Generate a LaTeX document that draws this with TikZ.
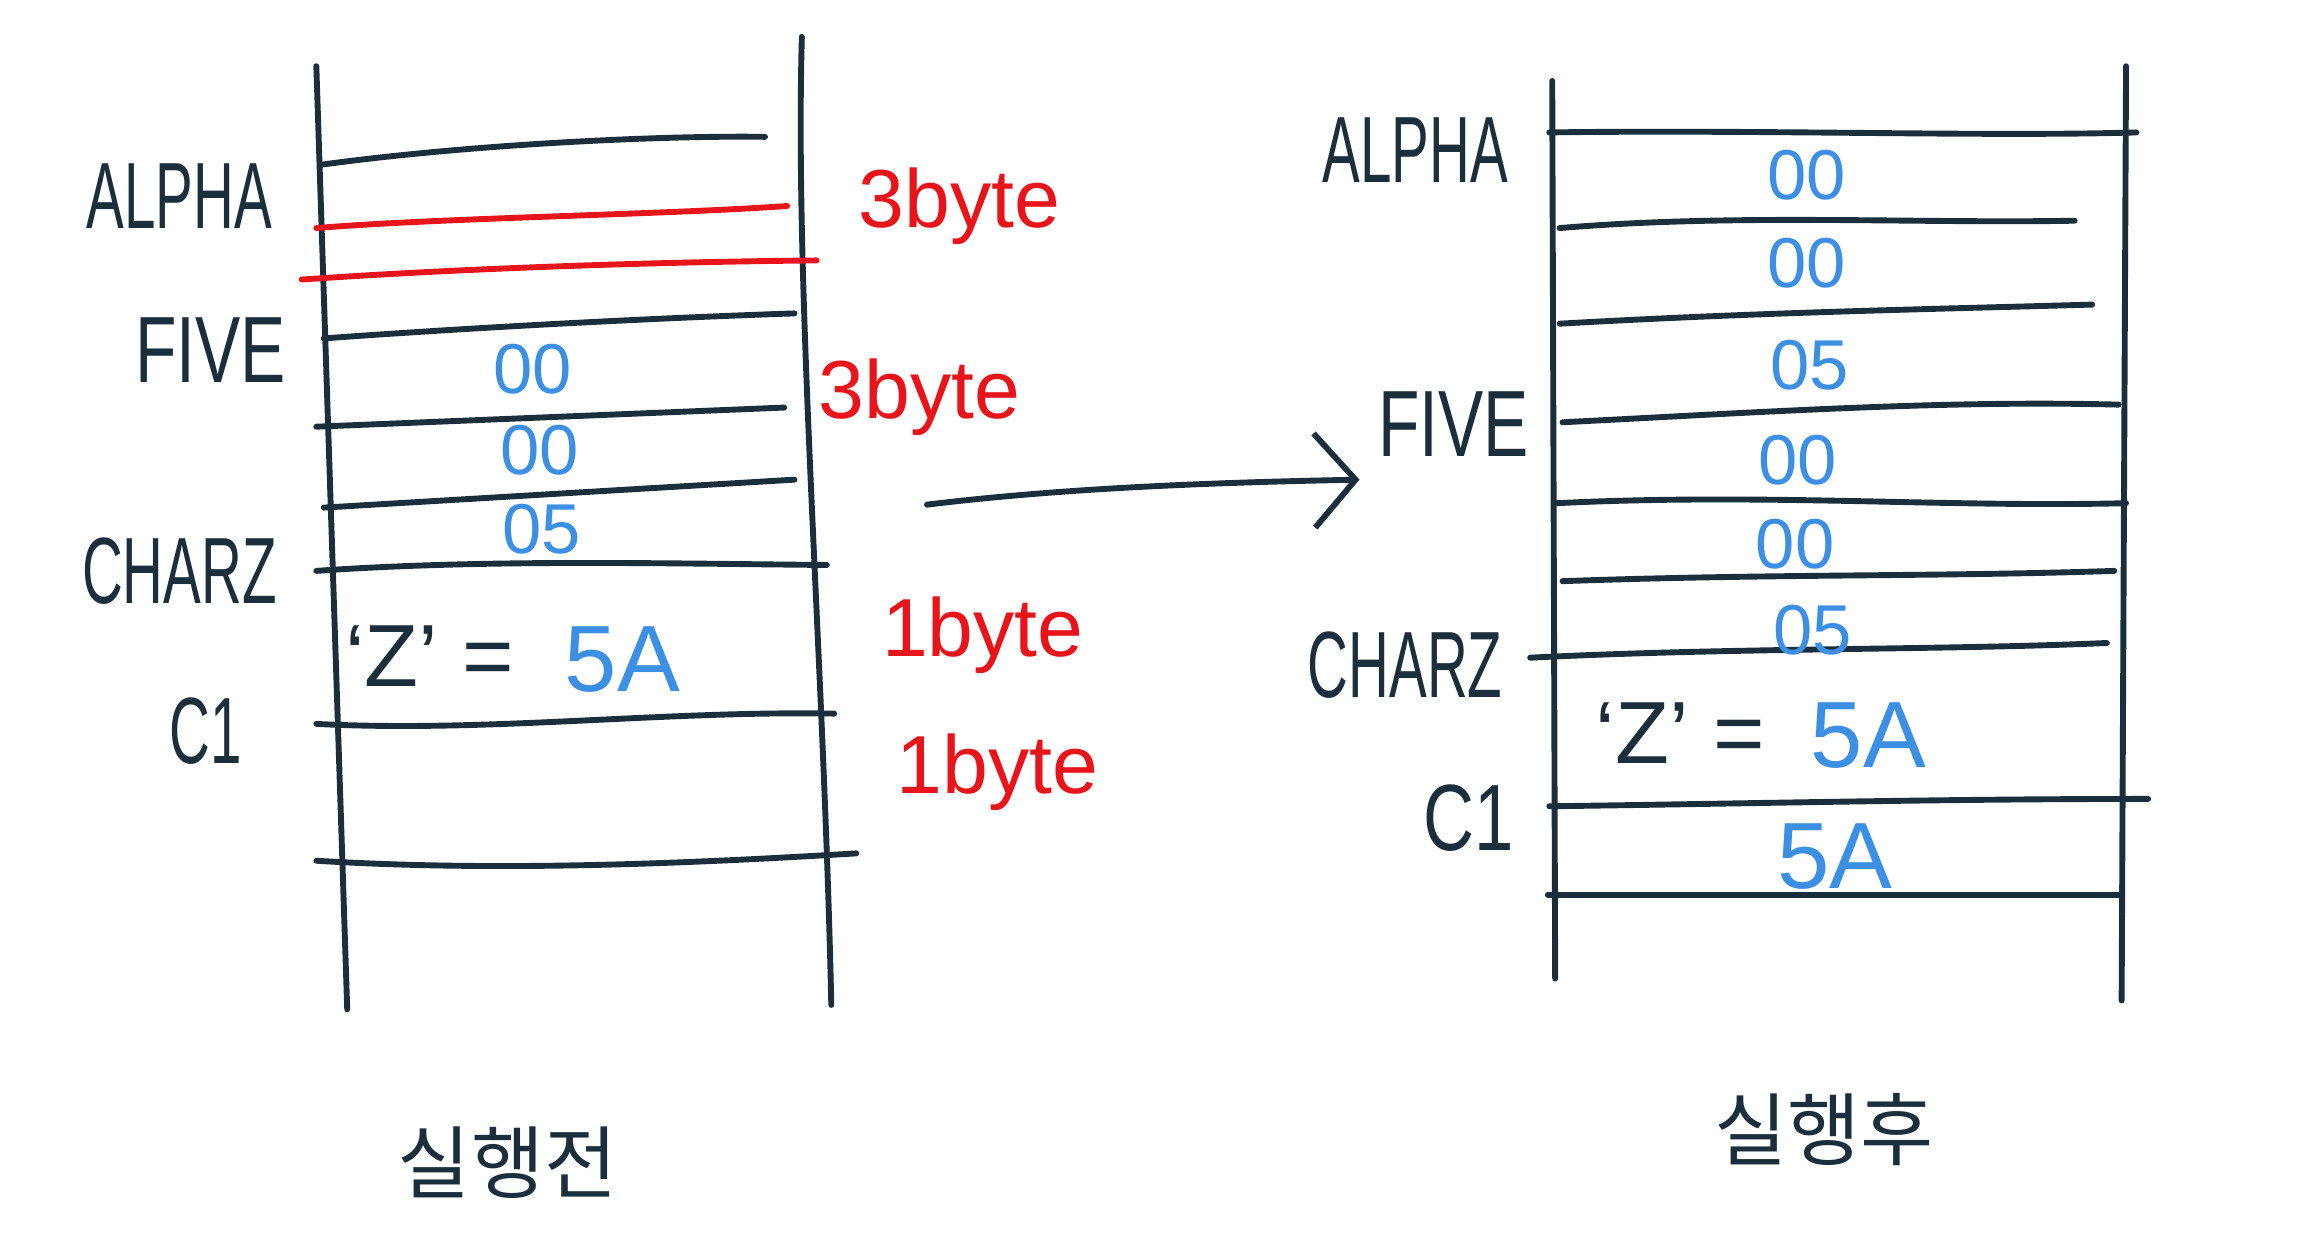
\documentclass[tikz,border=0pt]{standalone}
\usepackage{graphicx}
\usepackage{fontspec}
\setmainfont{Liberation Sans}
\newfontfamily\krfont{Noto Sans CJK KR}
\usetikzlibrary{arrows.meta}
\definecolor{ink}{HTML}{1B2E3C}
\definecolor{redc}{HTML}{E8141C}
\definecolor{bluec}{HTML}{3C8FE3}
\newcommand\sxx[1]{\scalebox{0.6}[1]{#1}}
\begin{document}
\begin{tikzpicture}[x=1pt,y=-1pt,line cap=round,line join=round,
  ln/.style={draw=ink,line width=4pt},
  rl/.style={draw=redc,line width=4pt},
  lbl/.style={text=ink,font=\fontsize{64}{64}\selectfont,inner sep=0pt},
  val/.style={text=bluec,font=\fontsize{48}{48}\selectfont,inner sep=0pt},
  big/.style={text=bluec,font=\fontsize{64}{64}\selectfont,inner sep=0pt},
  eqs/.style={text=ink,font=\fontsize{60}{60}\selectfont,inner sep=0pt},
  sz/.style={text=redc,font=\fontsize{56}{56}\selectfont,inner sep=0pt},
  kr/.style={text=ink,font=\krfont\fontsize{54}{54}\selectfont,inner sep=0pt},
  arr/.style={draw=ink,line width=4pt,-{Straight Barb[length=28pt,width=64pt,line width=4pt]}}]
\fill[white] (0,0) rectangle (1568,847);
\useasboundingbox (0,0) rectangle (1568,847);

% ---------- left block (before) ----------
\draw[ln] (215,45) -- (236,686);
\draw[ln] (545,25) .. controls (540,200) and (560,450) .. (565,683);
\draw[ln] (218,112) .. controls (320,98) and (450,92) .. (520,93);
\draw[rl] (215,155) .. controls (300,148) and (450,146) .. (535,140);
\draw[rl] (205,190) .. controls (320,182) and (450,178) .. (555,177);
\draw[ln] (220,230) .. controls (330,222) and (450,216) .. (540,213);
\draw[ln] (215,290) -- (533,277);
\draw[ln] (220,345) -- (540,326);
\draw[ln] (215,388) .. controls (330,380) and (450,383) .. (562,384);
\draw[ln] (215,492) .. controls (330,498) and (450,483) .. (567,485);
\draw[ln] (215,585) .. controls (330,592) and (450,588) .. (582,580);

\node[lbl] (alphaL) at (122,133) {\sxx{ALPHA}};
\node[lbl] (fiveL) at (143,238) {\scalebox{0.72}[1]{FIVE}};
\node[lbl] (charzL) at (122,388) {\sxx{CHARZ}};
\node[lbl] (c1L) at (140,497) {\sxx{C1}};

\node[val] (v1L) at (362,251) {00};
\node[val] (v2L) at (367,306) {00};
\node[val] (v3L) at (368,360) {05};
\node[eqs] (eqL) at (292,446) {‘Z’ =};
\node[big] (zL) at (423,448) {5A};

\node[sz] (b1) at (652,140) {3byte};
\node[sz] (b2) at (625,270) {3byte};
\node[sz] (b3) at (668,432) {1byte};
\node[sz] (b4) at (678,525) {1byte};

\node[kr] (before) at (345,790) {실행전};

% ---------- arrow ----------
\coordinate (arrS) at (630,343);
\coordinate (arrE) at (924,326);
\draw[arr] (arrS) .. controls (720,332) and (820,328) .. (arrE);

% ---------- right block (after) ----------
\draw[ln] (1055,55) -- (1057,665);
\draw[ln] (1445,45) -- (1442,680);
\draw[ln] (1053,90) .. controls (1200,88) and (1350,93) .. (1452,90);
\draw[ln] (1060,155) .. controls (1180,145) and (1300,152) .. (1410,150);
\draw[ln] (1060,220) .. controls (1200,212) and (1320,210) .. (1422,207);
\draw[ln] (1062,287) .. controls (1200,280) and (1320,272) .. (1440,275);
\draw[ln] (1058,342) .. controls (1200,335) and (1320,345) .. (1445,342);
\draw[ln] (1062,395) .. controls (1200,390) and (1320,392) .. (1437,388);
\draw[ln] (1040,447) .. controls (1180,440) and (1320,442) .. (1432,437);
\draw[ln] (1053,548) .. controls (1200,546) and (1320,543) .. (1460,543);
\draw[ln] (1052,608) -- (1440,608);

\node[lbl] (alphaR) at (962,102) {\sxx{ALPHA}};
\node[lbl] (fiveR) at (988,288) {\scalebox{0.72}[1]{FIVE}};
\node[lbl] (charzR) at (955,452) {\sxx{CHARZ}};
\node[lbl] (c1R) at (998,556) {\scalebox{0.75}[1]{C1}};

\node[val] (r1) at (1228,119) {00};
\node[val] (r2) at (1228,179) {00};
\node[val] (r3) at (1230,248) {05};
\node[val] (r4) at (1222,313) {00};
\node[val] (r5) at (1220,370) {00};
\node[val] (r6) at (1232,428) {05};
\node[eqs] (eqR) at (1142,498) {‘Z’ =};
\node[big] (zR) at (1270,500) {5A};
\node[big] (zR2) at (1247,582) {5A};

\node[kr] (after) at (1240,768) {실행후};
\end{tikzpicture}
\end{document}
